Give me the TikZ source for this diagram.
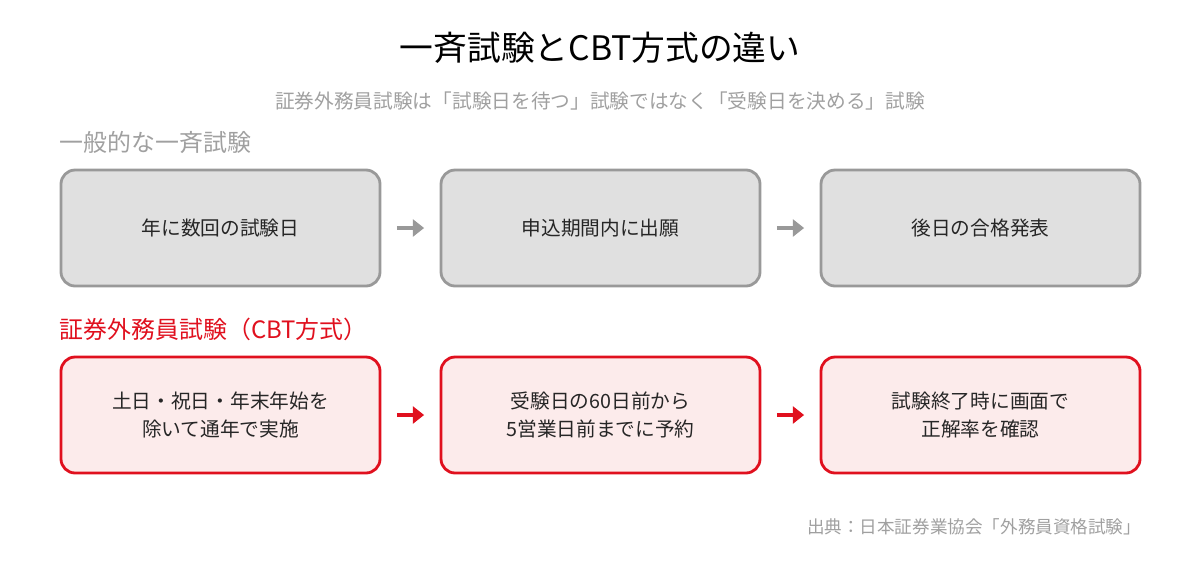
\documentclass[tikz,border=0pt]{standalone}
\usepackage{fontspec}
\setmainfont{Noto Sans CJK JP}
\usetikzlibrary{positioning,arrows.meta}
\definecolor{boxgray}{HTML}{E0E0E0}
\definecolor{linegray}{HTML}{999999}
\definecolor{txtgray}{HTML}{A0A0A0}
\definecolor{cbtred}{HTML}{E0101E}
\definecolor{boxpink}{HTML}{FCEBEB}
\tikzset{
  stage/.style={rounded corners=10pt, line width=2pt, minimum width=319*0.025cm,
    minimum height=116*0.025cm, align=center, font=\fontsize{14}{20}\selectfont, text=black!85},
  oldstage/.style={stage, draw=linegray, fill=boxgray},
  cbtstage/.style={stage, draw=cbtred, fill=boxpink},
  flow/.style={line width=3pt, -{Triangle[length=8pt,width=12pt]}, shorten >=11pt, shorten <=11pt},
  heading/.style={anchor=west, font=\fontsize{17}{20}\selectfont}
}
\begin{document}
\begin{tikzpicture}[x=0.025cm,y=-0.025cm]
\useasboundingbox (0,0) rectangle (1200,560);
% title
\node (title) at (600,48) {\fontsize{24}{28}\selectfont 一斉試験とCBT方式の違い};
\node[text=txtgray] (sub) at (600,101) {\fontsize{14}{16}\selectfont 証券外務員試験は「試験日を待つ」試験ではなく「受験日を決める」試験};
% general exam
\node[heading, text=txtgray] (lblold) at (55,142) {一般的な一斉試験};
\node[oldstage] (o1) at (220.5,228) {年に数回の試験日};
\node[oldstage] (o2) at (600.5,228) {申込期間内に出願};
\node[oldstage] (o3) at (980.5,228) {後日の合格発表};
\draw[flow, linegray] (o1) -- (o2);
\draw[flow, linegray] (o2) -- (o3);
% CBT
\node[heading, text=cbtred] (lblcbt) at (55,329) {証券外務員試験（CBT方式）};
\node[cbtstage] (c1) at (220.5,415) {土日・祝日・年末年始を\\除いて通年で実施};
\node[cbtstage] (c2) at (600.5,415) {受験日の60日前から\\5営業日前までに予約};
\node[cbtstage] (c3) at (980.5,415) {試験終了時に画面で\\正解率を確認};
\draw[flow, cbtred] (c1) -- (c2);
\draw[flow, cbtred] (c2) -- (c3);
% source
\node[anchor=east, text=txtgray] (src) at (1146,527) {\fontsize{12.5}{14}\selectfont 出典：日本証券業協会「外務員資格試験」};
\end{tikzpicture}
\end{document}
